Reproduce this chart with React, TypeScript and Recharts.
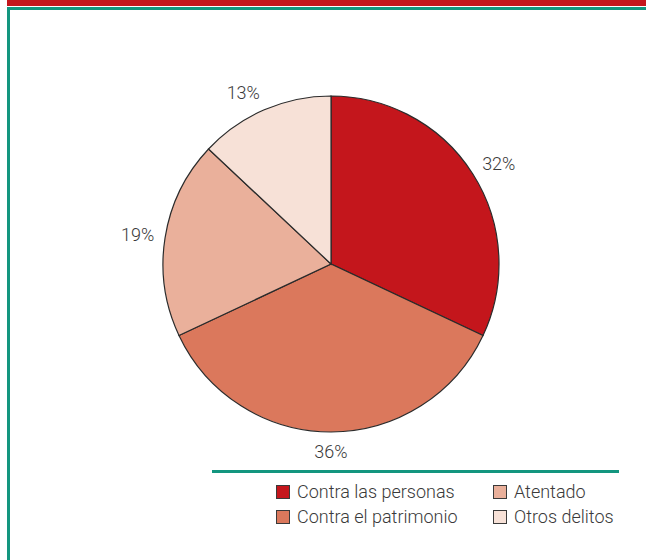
import { Cell, Legend, Pie, PieChart } from 'recharts';

const categories = ['Contra las personas', 'Contra el patrimonio', 'Atentado', 'Otros delitos'];
const values = [32, 36, 19, 13];
const COLORS = ['#c4161c', '#db785c', '#eab09b', '#f7e1d7'];

const data = categories.map((name, i) => ({ name, value: values[i] }));

const FONT = 'Roboto, "Open Sans", sans-serif';
const RAD = Math.PI / 180;

function renderLabel(props: any) {
  const { cx, cy, midAngle, outerRadius, value } = props;
  const r = outerRadius + 11;
  const cos = Math.cos(-midAngle * RAD);
  const sin = Math.sin(-midAngle * RAD);
  const x = cx + r * cos;
  const y = cy + r * sin + sin * 8;
  const anchor = cos > 0.1 ? 'start' : cos < -0.1 ? 'end' : 'middle';
  return (
    <text
      x={x}
      y={y}
      textAnchor={anchor}
      dominantBaseline="central"
      fill="#3a3a3a"
      fontSize={18}
      fontWeight={300}
      fontFamily={FONT}
    >
      {value}%
    </text>
  );
}

function LegendBox() {
  const item = (i: number) => (
    <div key={i} style={{ display: 'flex', alignItems: 'center', height: 25 }}>
      <span
        style={{
          width: 12,
          height: 12,
          background: COLORS[i],
          border: '1.5px solid #3a3a3a',
          marginRight: 7,
          flexShrink: 0,
        }}
      />
      <span>{categories[i]}</span>
    </div>
  );
  return (
    <div
      style={{
        borderTop: '3px solid #13967f',
        paddingTop: 6,
        paddingLeft: 64,
        display: 'grid',
        gridTemplateColumns: '217px auto',
        fontFamily: FONT,
        fontSize: 18,
        fontWeight: 300,
        color: '#3a3a3a',
        lineHeight: '25px',
      }}
    >
      {item(0)}
      {item(2)}
      {item(1)}
      {item(3)}
    </div>
  );
}

export default function App() {
  return (
    <div style={{ position: 'absolute', left: 0, top: 0, width: 646, height: 560, background: '#fff' }}>
      <div style={{ position: 'absolute', left: 7, top: 0, width: 639, height: 6, background: '#c4161c' }} />
      <div
        style={{
          position: 'absolute',
          left: 7,
          top: 7,
          width: 639,
          height: 553,
          borderTop: '3px solid #13967f',
          borderLeft: '3px solid #13967f',
          boxSizing: 'border-box',
        }}
      />
      <div style={{ position: 'absolute', left: 0, top: 0 }}>
        <PieChart width={646} height={560} margin={{ top: 0, right: 0, bottom: 0, left: 0 }}>
          <Pie
            data={data}
            dataKey="value"
            nameKey="name"
            cx={331}
            cy={264}
            outerRadius={168}
            startAngle={90}
            endAngle={-270}
            stroke="#2b2b2b"
            strokeWidth={1.2}
            label={renderLabel}
            labelLine={false}
            isAnimationActive={false}
          >
            {data.map((d, i) => (
              <Cell key={d.name} fill={COLORS[i]} />
            ))}
          </Pie>
          <Legend
            content={<LegendBox />}
            wrapperStyle={{ position: 'absolute', left: 212, top: 470, width: 407, bottom: 'auto' }}
          />
        </PieChart>
      </div>
    </div>
  );
}
